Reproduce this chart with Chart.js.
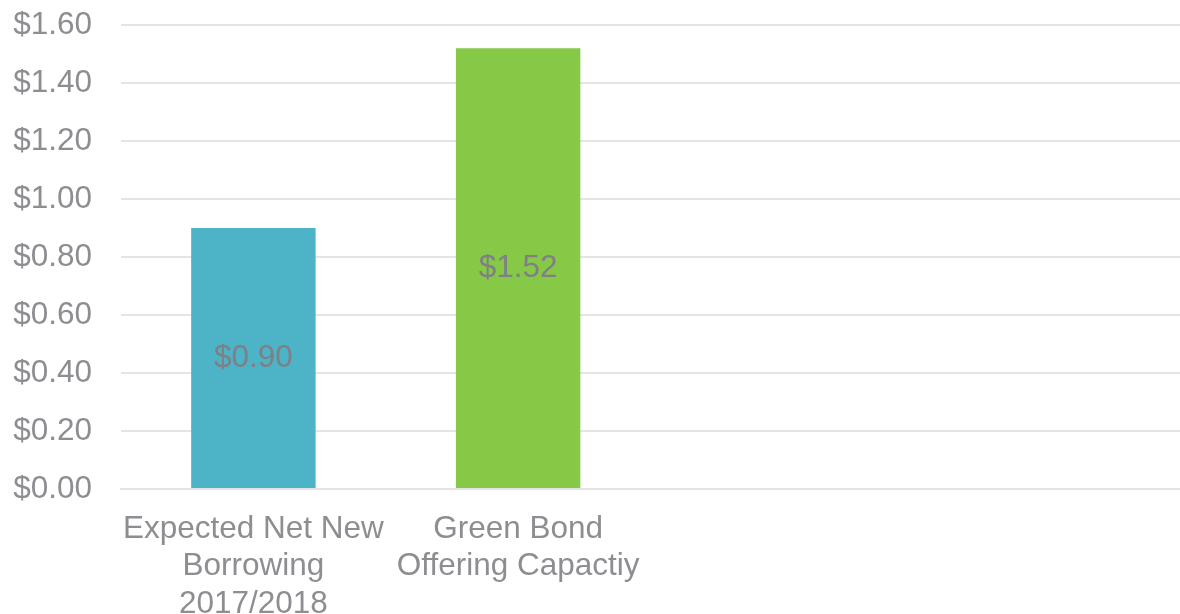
<!DOCTYPE html>
<html>
<head>
<meta charset="utf-8">
<script src="https://cdn.jsdelivr.net/npm/chart.js@4/dist/chart.umd.min.js"></script>
<style>
  html, body { margin:0; padding:0; background:#fff; }
  #wrap { width:1180px; height:614px; position:relative; }
</style>
</head>
<body>
<div id="wrap"><canvas id="borrowChart"></canvas></div>
<script>
/* DATA */
const categories = [
  ['Expected Net New', 'Borrowing', '2017/2018'],
  ['Green Bond', 'Offering Capactiy'],
  '',
  ''
];
const amounts = [0.90, 1.52, null, null];
const barColors = ['#4db3c7', '#85c947', '#4db3c7', '#85c947'];
const yTicks = [0, 0.2, 0.4, 0.6, 0.8, 1.0, 1.2, 1.4, 1.6];

const GREY = '#8e8e92';
const FONT = { family: "'Liberation Sans', Arial, sans-serif", size: 31.5, lineHeight: 1.2 };
const money = (v)=> '$' + v.toFixed(2);

/* value labels centred inside each bar */
const barValues = {
  id: 'barValues',
  afterDatasetsDraw(chart){
    const ctx = chart.ctx;
    const meta = chart.getDatasetMeta(0);
    ctx.save();
    ctx.font = `${FONT.size}px ${FONT.family}`;
    ctx.fillStyle = '#7f7f85';
    ctx.textAlign = 'center';
    ctx.textBaseline = 'middle';
    meta.data.forEach((bar, i)=>{
      const v = amounts[i];
      if(v == null) return;
      ctx.fillText(money(v), bar.x, (bar.y + bar.base) / 2);
    });
    ctx.restore();
  }
};

new Chart(document.getElementById('borrowChart'), {
  type: 'bar',
  data: {
    labels: categories,
    datasets: [{
      data: amounts,
      backgroundColor: barColors,
      borderWidth: 0,
      categoryPercentage: 1,
      barPercentage: 0.47
    }]
  },
  options: {
    responsive: true,
    maintainAspectRatio: false,
    animation: false,
    layout: { padding: { top: 25, right: 0, bottom: 0, left: 0 } },
    plugins: { legend: { display: false }, tooltip: { enabled: false } },
    scales: {
      x: {
        grid: { display: false, drawTicks: false },
        border: { display: true, color: '#e4e4e4', width: 2 },
        ticks: { color: GREY, font: FONT, padding: 21, maxRotation: 0, autoSkip: false },
        afterFit: (scale)=> { scale.height = 125; }
      },
      y: {
        min: 0,
        max: 1.6,
        afterBuildTicks: (scale)=> { scale.ticks = yTicks.map(v => ({ value: v })); },
        // invisible tick marks keep the label gap without padding the top
        grid: { color: '#e4e4e4', lineWidth: 2, drawTicks: true, tickLength: 29, tickColor: 'rgba(0,0,0,0)' },
        border: { display: false },
        ticks: { color: GREY, font: FONT, padding: 0, callback: (v)=> money(v) },
        afterFit: (scale)=> { scale.width = 121; }
      }
    }
  },
  plugins: [barValues]
});
</script>
</body>
</html>
